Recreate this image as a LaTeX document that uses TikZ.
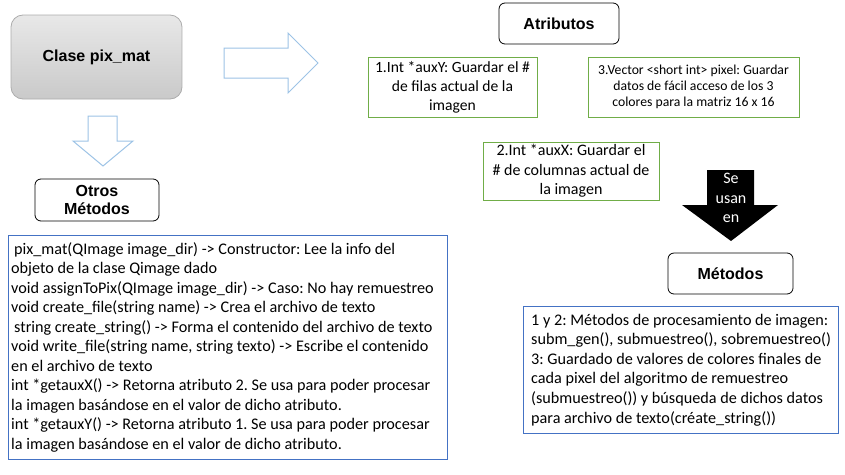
\documentclass[tikz,border=0pt]{standalone}
\usepackage{fontspec}
\setmainfont{Carlito}
\newfontfamily\arialf{Liberation Sans}
\definecolor{arrblue}{RGB}{157,195,230}
\definecolor{boxgreen}{RGB}{112,173,71}
\definecolor{boxblue}{RGB}{68,114,196}
\frenchspacing
\begin{document}
\begin{tikzpicture}[x=1pt,y=-1pt,
  titlebox/.style={draw=black, line width=0.8pt, rounded corners=6pt, align=center,
    font=\arialf\bfseries\fontsize{16}{18}\selectfont, inner sep=0pt},
  greenbox/.style={draw=boxgreen, line width=0.9pt, align=center, inner sep=0pt},
  bluebox/.style={draw=boxblue, line width=0.9pt, inner sep=0pt},
  bodyfont/.style={font=\fontsize{16.2}{19.5}\selectfont},
  blockarrow/.style={draw=arrblue, line width=1pt, fill=white}
]
\useasboundingbox (0,0) rectangle (845,474);

% Clase pix_mat
\node[draw=gray!65, line width=0.8pt, rounded corners=12pt, top color=gray!18, bottom color=gray!42,
  minimum width=171pt, minimum height=84pt, font=\arialf\bfseries\fontsize{16}{18}\selectfont]
  (clase) at (96.5,57) {Clase pix\_mat};

% block arrows
\draw[blockarrow] (224,48) -- (288,48) -- (288,33) -- (318,63) -- (288,93) -- (288,78) -- (224,78) -- cycle;
\draw[blockarrow] (88,116) -- (117,116) -- (117,141) -- (133,141) -- (103,166) -- (73,141) -- (88,141) -- cycle;

% title boxes
\node[titlebox, minimum width=124pt, minimum height=42pt] (otros) at (97,200) {Otros\\Métodos};
\node[titlebox, minimum width=120pt, minimum height=41pt] (atrib) at (559,23.5) {Atributos};
\node[titlebox, minimum width=125pt, minimum height=41pt] (metodos) at (730.5,273.5) {Métodos};

% attribute boxes
\node[greenbox, minimum width=169pt, minimum height=60pt, font=\fontsize{15.6}{19}\selectfont]
  (attr1) at (452.5,87) {1.Int *auxY: Guardar el \#\\de filas actual de la\\imagen};
\node[greenbox, minimum width=211pt, minimum height=60pt, font=\fontsize{13.7}{16}\selectfont]
  (attr3) at (693.5,87) {3.Vector <short int> pixel: Guardar\\datos de fácil acceso de los 3\\colores para la matriz 16 x 16};
\node[greenbox, minimum width=176pt, minimum height=58pt, font=\fontsize{16}{19.5}\selectfont]
  (attr2) at (571,171) {2.Int *auxX: Guardar el\\\# de columnas actual de\\la imagen};

% black arrow
\fill[black] (707,170) -- (754,170) -- (754,205) -- (778,205) -- (731,241) -- (682,205) -- (707,205) -- cycle;
\node[text=white, align=center, font=\fontsize{16}{19.5}\selectfont, inner sep=0pt] (seusan) at (731,198) {Se\\usan\\en};

% Otros metodos text box
\node[bluebox, minimum width=439pt, minimum height=224pt, anchor=north west] (otrosbox) at (8,235) {};
\node[bodyfont, align=left, anchor=west, inner sep=0pt] (otrostxt) at ([xshift=3pt]otrosbox.west) {%
\hspace*{3pt}pix\_mat(QImage image\_dir) -> Constructor: Lee la info del\\
objeto de la clase Qimage dado\\
void assignToPix(QImage image\_dir) -> Caso: No hay remuestreo\\
void create\_file(string name) -> Crea el archivo de texto\\
\hspace*{3pt}string create\_string() -> Forma el contenido del archivo de texto\\
void write\_file(string name, string texto) -> Escribe el contenido\\
en el archivo de texto\\
int *getauxX() -> Retorna atributo 2. Se usa para poder procesar\\
la imagen basándose en el valor de dicho atributo.\\
int *getauxY() -> Retorna atributo 1. Se usa para poder procesar\\
la imagen basándose en el valor de dicho atributo.};

% Metodos text box
\node[bluebox, minimum width=315pt, minimum height=127pt, anchor=north west] (metbox) at (523,306) {};
\node[font=\fontsize{16.2}{19.6}\selectfont, align=left, anchor=west, inner sep=0pt] (mettxt) at ([xshift=8pt]metbox.west) {%
1 y 2: Métodos de procesamiento de imagen:\\
subm\_gen(), submuestreo(), sobremuestreo()\\
3: Guardado de valores de colores finales de\\
cada pixel del algoritmo de remuestreo\\
(submuestreo()) y búsqueda de dichos datos\\
para archivo de texto(créate\_string())};
\end{tikzpicture}
\end{document}
